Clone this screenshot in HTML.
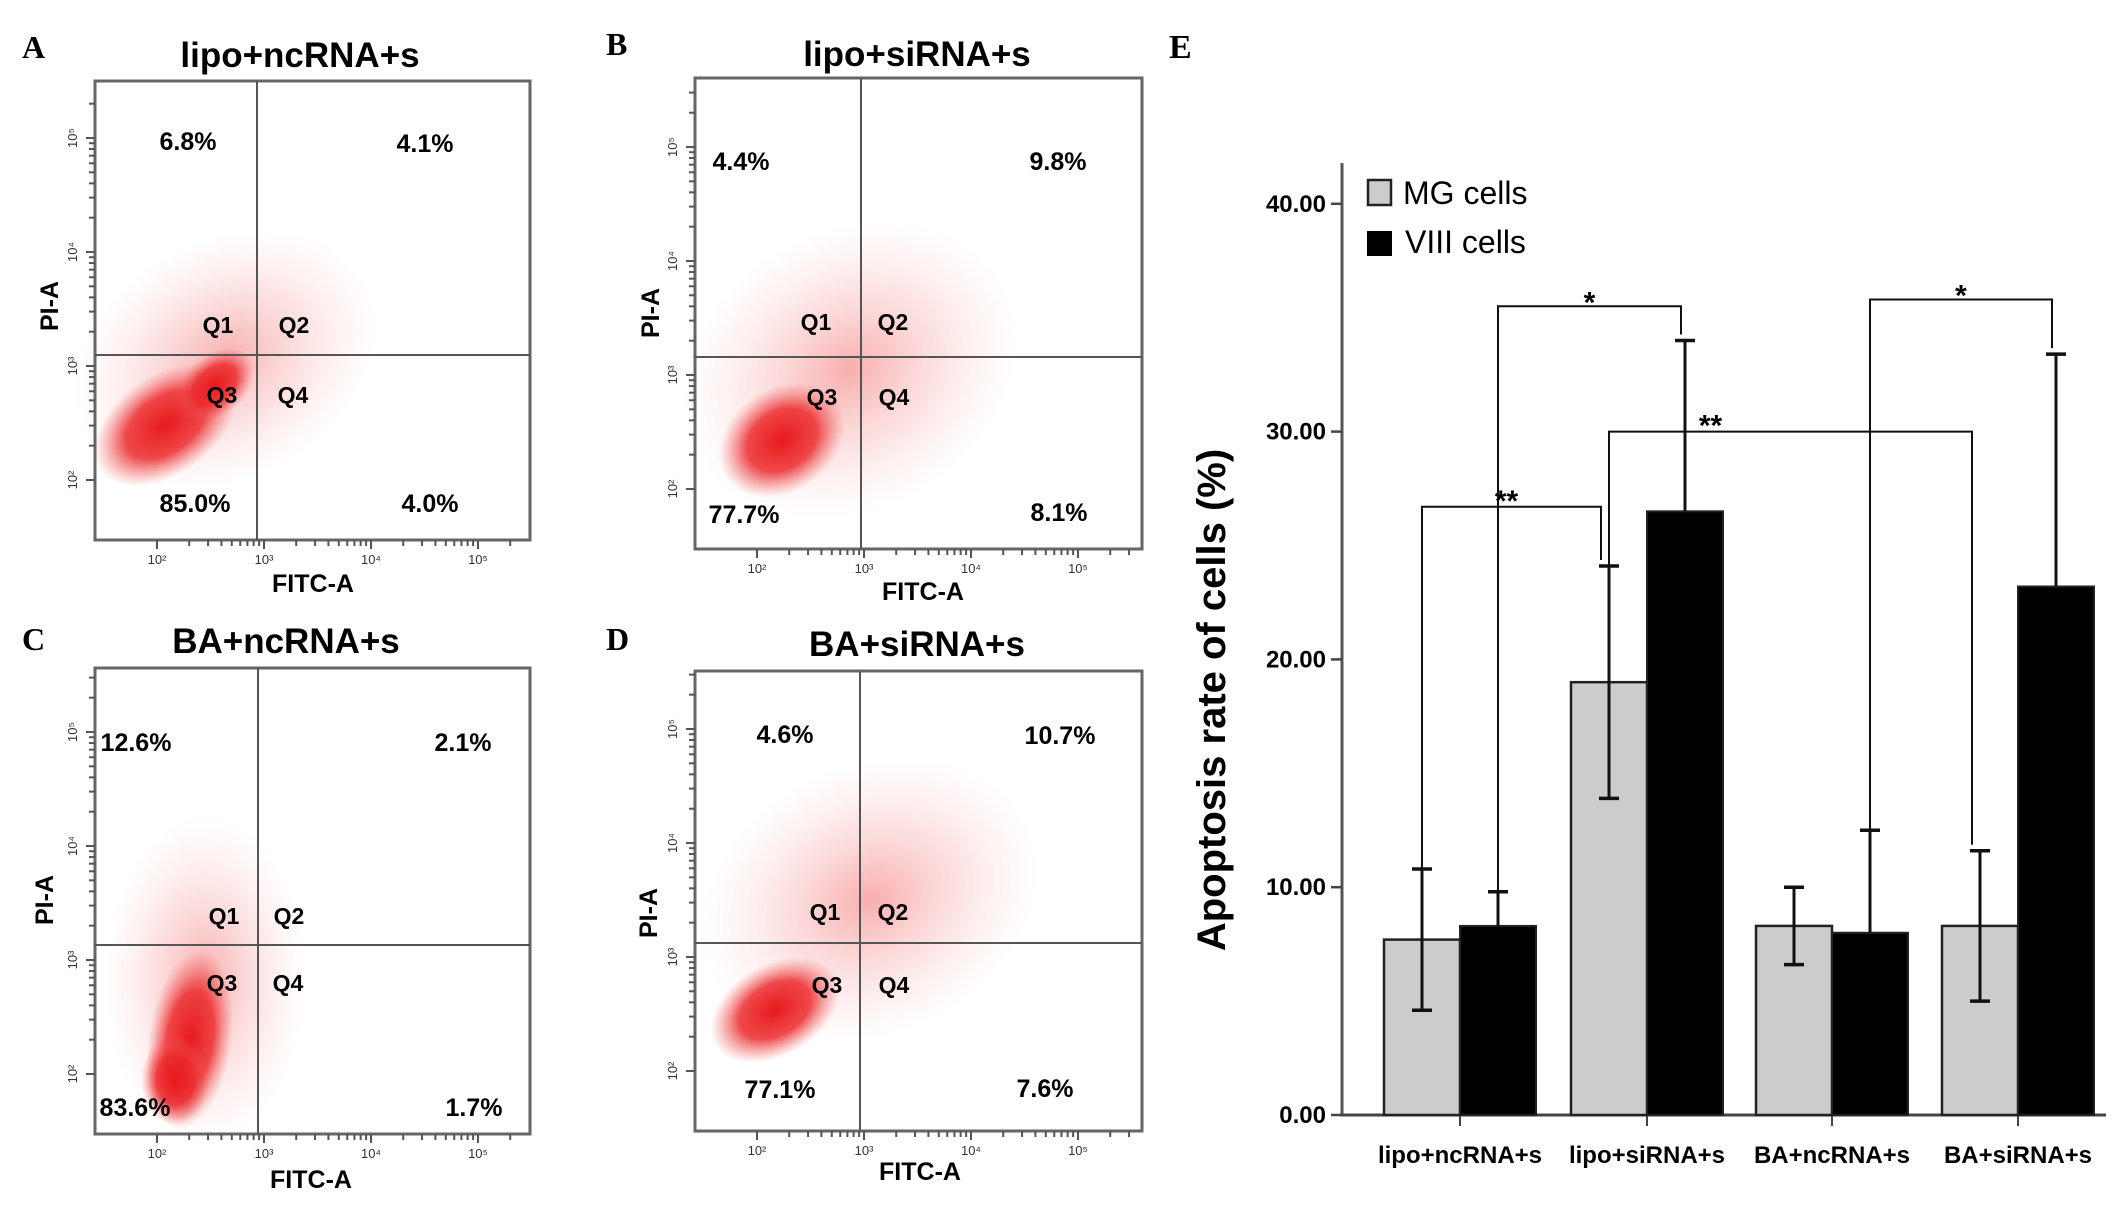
<!DOCTYPE html>
<html><head><meta charset="utf-8"><style>
html,body{margin:0;padding:0;background:#fff;}
svg{display:block;font-family:"Liberation Sans",sans-serif;}
</style></head><body>
<svg id="fig" width="2126" height="1211" viewBox="0 0 2126 1211" xmlns="http://www.w3.org/2000/svg">
<defs>
<radialGradient id="core" cx="50%" cy="50%" r="50%">
<stop offset="0" stop-color="#e8191c" stop-opacity="1"/>
<stop offset="0.55" stop-color="#ec2a2c" stop-opacity="0.85"/>
<stop offset="1" stop-color="#f06060" stop-opacity="0"/>
</radialGradient>
<radialGradient id="halo" cx="50%" cy="50%" r="50%">
<stop offset="0" stop-color="#f04a4a" stop-opacity="0.45"/>
<stop offset="1" stop-color="#f7a0a0" stop-opacity="0"/>
</radialGradient>
</defs>
<g id="flows"></g>
<g id="chartE"></g>
</svg>
<script>
// ---- Bar chart data (panel E) ----
const categories = ["lipo+ncRNA+s","lipo+siRNA+s","BA+ncRNA+s","BA+siRNA+s"];
const mgValues = [7.7, 19.0, 8.3, 8.3];
const mgErr = [3.1, 5.1, 1.7, 3.3];
const viiiValues = [8.3, 26.5, 8.0, 23.2];
const viiiErr = [1.5, 7.5, 4.5, 10.2];
const yTicks = [0, 10, 20, 30, 40];
const yTickLabels = ["0.00","10.00","20.00","30.00","40.00"];
const bracketFrom = [[0,"mg"],[0,"viii"],[1,"mg"],[2,"viii"]];
const bracketTo = [[1,"mg"],[1,"viii"],[3,"mg"],[3,"viii"]];
const bracketLevel = [26.7, 35.5, 30.0, 35.8];
const bracketLabel = ["**","*","**","*"];

// ---- Flow panel data ----
const panelTitles = ["lipo+ncRNA+s","lipo+siRNA+s","BA+ncRNA+s","BA+siRNA+s"];
const panelLetters = ["A","B","C","D"];
const panelQ1 = ["6.8%","4.4%","12.6%","4.6%"];
const panelQ2 = ["4.1%","9.8%","2.1%","10.7%"];
const panelQ3 = ["85.0%","77.7%","83.6%","77.1%"];
const panelQ4 = ["4.0%","8.1%","1.7%","7.6%"];

const NS="http://www.w3.org/2000/svg";
function mk(tag, attrs, parent, text){
  const e=document.createElementNS(NS,tag);
  for(const k in attrs) e.setAttribute(k,attrs[k]);
  if(text!==undefined) e.textContent=text;
  parent.appendChild(e); return e;
}

// ===== Flow panels =====
const flows=document.getElementById('flows');
const boxes=[
 {x:95,y:81,w:435,h:459,vx:257,hy:355,lx:22,ly:58,tx:300,ty:67,
  p:[[188,150],[425,152],[195,512],[430,512]],q:[[218,333],[294,333],[222,403],[293,403]],
  pia:[50,306],fitc:[313,592],
  cores:[[165,425,80,50,-35],[215,385,45,30,-40]],halos:[[225,360,160,120,-30]]},
 {x:695,y:78,w:447,h:471,vx:861,hy:357,lx:606,ly:55,tx:917,ty:66,
  p:[[741,170],[1058,170],[744,523],[1059,521]],q:[[816,330],[893,330],[822,405],[894,405]],
  pia:[651,313],fitc:[923,600],
  cores:[[782,440,68,52,-35]],halos:[[850,370,175,140,-30]]},
 {x:95,y:668,w:435,h:466,vx:258,hy:945,lx:22,ly:650,tx:286,ty:653,
  p:[[136,751],[463,751],[135,1116],[474,1116]],q:[[224,924],[289,924],[222,991],[288,991]],
  pia:[45,900],fitc:[311,1188],
  cores:[[190,1040,42,90,8],[175,1080,34,45,0]],halos:[[205,980,100,165,0]]},
 {x:695,y:671,w:447,h:460,vx:860,hy:943,lx:606,ly:650,tx:917,ty:656,
  p:[[785,743],[1060,744],[780,1098],[1045,1097]],q:[[825,920],[893,920],[827,993],[894,993]],
  pia:[649,913],fitc:[920,1180],
  cores:[[775,1010,70,46,-30]],halos:[[870,900,175,135,-25]]}
];
boxes.forEach((b,i)=>{
  const g=mk('g',{},flows);
  
  
  b.halos.forEach(h=>{
    const e=mk('ellipse',{cx:h[0],cy:h[1],rx:h[2],ry:h[3],fill:'url(#halo)',transform:`rotate(${h[4]} ${h[0]} ${h[1]})`},g);
    
    
  });
  b.cores.forEach(h=>{
    const e=mk('ellipse',{cx:h[0],cy:h[1],rx:h[2],ry:h[3],fill:'url(#core)',transform:`rotate(${h[4]} ${h[0]} ${h[1]})`},g);
    
    
  });
  const fr=mk('rect',{x:b.x,y:b.y,width:b.w,height:b.h,fill:'none',stroke:'#666','stroke-width':3},g);
  
  
  const vl=mk('line',{x1:b.vx,y1:b.y,x2:b.vx,y2:b.y+b.h,stroke:'#555','stroke-width':2},g);
  
  
  const hl=mk('line',{x1:b.x,y1:b.hy,x2:b.x+b.w,y2:b.hy,stroke:'#555','stroke-width':2},g);
  
  
  for(let k=0;k<4;k++){
    const dx=b.x+62+k*107;
    for(let m=1;m<10;m++){
      const tx=dx+Math.log10(m)*107;
      if(tx>b.x+b.w-3) break;
      const t=mk('line',{x1:tx,y1:b.y+b.h,x2:tx,y2:b.y+b.h+(m===1?9:6),stroke:'#555','stroke-width':2},g);
      
      
    }
    const tl=mk('text',{x:dx,y:b.y+b.h+24,'font-size':13,'text-anchor':'middle',fill:'#333'},g,'10'+['²','³','⁴','⁵'][k]);
    
    
  }
  for(let k=0;k<4;k++){
    const dy=b.y+b.h-60-k*114;
    for(let m=1;m<10;m++){
      const ty=dy-Math.log10(m)*114;
      if(ty<b.y+3) break;
      const t=mk('line',{x1:b.x,y1:ty,x2:b.x-(m===1?9:6),y2:ty,stroke:'#555','stroke-width':2},g);
      
      
    }
    const tl=mk('text',{x:b.x-18,y:dy,'font-size':13,'text-anchor':'middle',fill:'#333',transform:`rotate(-90 ${b.x-18} ${dy})`},g,'10'+['²','³','⁴','⁵'][k]);
    
    
  }
  const L=mk('text',{x:b.lx,y:b.ly,'font-size':32,'font-weight':'bold','font-family':'Liberation Serif,serif'},g,panelLetters[i]);
  
  
  const T=mk('text',{x:b.tx,y:b.ty,'font-size':35,'font-weight':'bold','text-anchor':'middle'},g,panelTitles[i]);
  
  
  [panelQ1[i],panelQ2[i],panelQ3[i],panelQ4[i]].forEach((s,j)=>{
    const t=mk('text',{x:b.p[j][0],y:b.p[j][1],'font-size':25,'font-weight':'bold','text-anchor':'middle'},g,s);
    
    
  });
  ['Q1','Q2','Q3','Q4'].forEach((s,j)=>{
    const t=mk('text',{x:b.q[j][0],y:b.q[j][1],'font-size':23,'font-weight':'bold','text-anchor':'middle'},g,s);
    
    
  });
  const pa=mk('text',{x:b.pia[0],y:b.pia[1],'font-size':25,'font-weight':'bold','text-anchor':'middle',transform:`rotate(-90 ${b.pia[0]} ${b.pia[1]})`,dy:8},g,'PI-A');
  
  
  const fa=mk('text',{x:b.fitc[0],y:b.fitc[1],'font-size':25,'font-weight':'bold','text-anchor':'middle'},g,'FITC-A');
  
  
});

// ===== Panel E bar chart =====
const E=document.getElementById('chartE');
const y0=1115, pxPer=22.78;
function yS(v){return y0-v*pxPer;}
const groupStart=[1384,1571,1756,1942];
const barW=76;
function xBar(i,s){return groupStart[i]+(s==='mg'?0:barW);}
function xCenter(i,s){return xBar(i,s)+barW/2;}
function errTop(i,s){return s==='mg'?mgValues[i]+mgErr[i]:viiiValues[i]+viiiErr[i];}

const eL=mk('text',{x:1169,y:58,'font-size':34,'font-weight':'bold','font-family':'Liberation Serif,serif'},E,'E');



const ya=mk('line',{x1:1342,y1:163,x2:1342,y2:y0+1,stroke:'#555','stroke-width':3},E);


const xa=mk('line',{x1:1340,y1:y0,x2:2106,y2:y0,stroke:'#444','stroke-width':3},E);


yTicks.forEach((v,k)=>{
  const t=mk('line',{x1:1331,y1:yS(v),x2:1342,y2:yS(v),stroke:'#444','stroke-width':2.5},E);
  
  
  const tl=mk('text',{x:1326,y:yS(v)+8,'font-size':24,'font-weight':'bold','text-anchor':'end'},E,yTickLabels[k]);
  
  
});
const yt=mk('text',{x:1225,y:700,'font-size':40,'font-weight':'bold','text-anchor':'middle',transform:'rotate(-90 1225 700)'},E,'Apoptosis rate of cells (%)');



categories.forEach((c,i)=>{
  const mid=groupStart[i]+barW;
  const t=mk('line',{x1:mid,y1:y0,x2:mid,y2:y0+11,stroke:'#444','stroke-width':2},E);
  
  
  const tl=mk('text',{x:mid,y:1163,'font-size':24,'font-weight':'bold','text-anchor':'middle'},E,c);
  
  
  const b1=mk('rect',{x:xBar(i,'mg'),y:yS(mgValues[i]),width:barW,height:mgValues[i]*pxPer,fill:'#cccccc',stroke:'#222','stroke-width':2.5},E);
  
  
  const b2=mk('rect',{x:xBar(i,'viii'),y:yS(viiiValues[i]),width:barW,height:viiiValues[i]*pxPer,fill:'#000',stroke:'#222','stroke-width':2},E);
  
  
  const cx1=xCenter(i,'mg');
  const e1=mk('line',{x1:cx1,y1:yS(mgValues[i]-mgErr[i]),x2:cx1,y2:yS(mgValues[i]+mgErr[i]),stroke:'#111','stroke-width':3},E);
  
  
  [mgValues[i]-mgErr[i],mgValues[i]+mgErr[i]].forEach(v=>{
    const cap=mk('line',{x1:cx1-10,y1:yS(v),x2:cx1+10,y2:yS(v),stroke:'#111','stroke-width':3.5},E);
    
    
  });
  const cx2=xCenter(i,'viii');
  const e2=mk('line',{x1:cx2,y1:yS(viiiValues[i]),x2:cx2,y2:yS(viiiValues[i]+viiiErr[i]),stroke:'#111','stroke-width':3},E);
  
  
  const cap2=mk('line',{x1:cx2-10,y1:yS(viiiValues[i]+viiiErr[i]),x2:cx2+10,y2:yS(viiiValues[i]+viiiErr[i]),stroke:'#111','stroke-width':3.5},E);
  
  
});

bracketLevel.forEach((lv,k)=>{
  const [ia,sa]=bracketFrom[k], [ib,sb]=bracketTo[k];
  const xa1=xCenter(ia,sa), xb1=xCenter(ib,sb)-(sb==='mg'?8:4);
  const ya1=yS(errTop(ia,sa)), yb1=yS(errTop(ib,sb))-6, yl=yS(lv);
  const p=mk('polyline',{points:`${xa1},${ya1} ${xa1},${yl} ${xb1},${yl} ${xb1},${yb1}`,fill:'none',stroke:'#111','stroke-width':2},E);
  
  
  const t=mk('text',{x:(xa1+xb1)/2+(k===0?-5:k===2?-80:0),y:yl-4+(bracketLabel[k]==='*'?10:8),'font-size':30,'font-weight':'bold','text-anchor':'middle'},E,bracketLabel[k]);
  
  
});

const lg=mk('g',{},E);


const s1=mk('rect',{x:1368,y:180,width:23,height:25,fill:'#ccc',stroke:'#222','stroke-width':2.5},lg);


const t1=mk('text',{x:1403,y:204,'font-size':32},lg,'MG cells');


const s2=mk('rect',{x:1367,y:231,width:25,height:25,fill:'#000'},lg);


const t2=mk('text',{x:1405,y:253,'font-size':32},lg,'VIII cells');


</script>
</body></html>
